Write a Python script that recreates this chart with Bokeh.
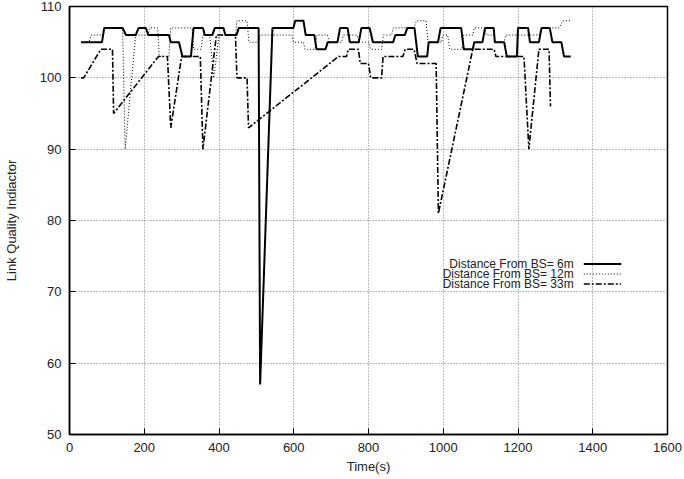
from bokeh.plotting import figure
from bokeh.models import FixedTicker, Label, Arrow
from bokeh.embed import file_html
from bokeh.resources import INLINE

FONT = "Liberation Sans"

# Link quality readings over time for three node distances
t_6m = [31, 87, 93, 142, 151, 177, 185, 204, 211, 266, 271, 293, 302, 325, 332, 357,
        362, 382, 389, 412, 417, 447, 453, 506, 510, 543, 599, 604, 626, 632, 655, 661,
        685, 691, 717, 724, 744, 750, 774, 781, 803, 812, 866, 872, 897, 904, 923, 932,
        957, 961, 986, 993, 1048, 1055, 1079, 1083, 1105, 1112, 1135, 1138, 1163, 1170,
        1197, 1200, 1227, 1232, 1256, 1263, 1285, 1292, 1316, 1323, 1341]
lqi_6m = [105, 105, 107, 107, 106, 106, 107, 107, 106, 106, 105, 105, 103, 103, 107, 107,
          106, 106, 107, 107, 106, 106, 107, 107, 57, 107, 107, 108, 108, 106, 106, 104,
          104, 105, 105, 107, 107, 105, 105, 107, 107, 105, 105, 106, 106, 107, 107, 103,
          103, 105, 105, 107, 107, 104, 104, 105, 105, 107, 107, 105, 105, 103,
          103, 107, 107, 105, 105, 107, 107, 105, 105, 103, 103]

t_12m = [31, 52, 58, 88, 93, 142, 149, 177, 210, 215, 236, 240, 266, 271, 328, 332,
         352, 357, 375, 386, 400, 444, 448, 475, 480, 506, 510, 595, 599, 626, 630, 657,
         662, 690, 695, 728, 733, 770, 775, 800, 806, 835, 840, 862, 866, 922, 928, 954,
         959, 995, 999, 1012, 1017, 1050, 1055, 1079, 1083, 1110, 1115, 1135, 1140, 1163,
         1167, 1256, 1263, 1310, 1320, 1340]
lqi_12m = [105, 105, 106, 106, 107, 107, 90, 106, 106, 107, 107, 103, 103, 107, 107, 104,
           104, 106, 106, 100, 106, 106, 108, 108, 105, 105, 106, 106, 105, 105, 104, 104,
           106, 106, 105, 105, 106, 106, 105, 105, 104, 104, 106, 106, 107, 107, 108, 108,
           105, 105, 106, 106, 104, 104, 106, 106, 107, 107, 106, 106, 105, 105,
           106, 106, 107, 107, 108, 108]

t_33m = [31, 38, 84, 115, 118, 238, 262, 271, 300, 350, 357, 393, 444, 448, 475, 479,
         720, 741, 746, 773, 778, 800, 806, 835, 839, 892, 898, 922, 930, 981, 987, 1079,
         1136, 1141, 1216, 1229, 1256, 1283, 1287]
lqi_33m = [100, 100, 104, 104, 95, 103, 103, 93, 103, 103, 90, 106, 106, 100, 100, 93,
           103, 103, 104, 104, 102, 102, 100, 100, 103, 103, 104, 104, 102, 102, 81, 104,
           104, 103, 103, 90, 104, 104, 96]

x_ticks = [0, 200, 400, 600, 800, 1000, 1200, 1400, 1600]
y_ticks = [50, 60, 70, 80, 90, 100, 110]

series_labels = ["Distance From BS= 6m", "Distance From BS= 12m", "Distance From BS= 33m"]

p = figure(width=684, height=479, x_range=(0, 1600), y_range=(50, 110),
           output_backend="svg", toolbar_location=None,
           min_border_left=67, min_border_right=17, min_border_top=6, min_border_bottom=45)

p.background_fill_color = "white"
p.border_fill_color = "white"
p.outline_line_color = "black"
p.outline_line_width = 1.5

p.xaxis.ticker = FixedTicker(ticks=x_ticks)
p.yaxis.ticker = FixedTicker(ticks=y_ticks)
p.xgrid.ticker = FixedTicker(ticks=x_ticks)
p.ygrid.ticker = FixedTicker(ticks=y_ticks)
for g in (p.xgrid, p.ygrid):
    g.grid_line_color = "#777777"
    g.grid_line_dash = "1 2"
    g.grid_line_width = 1

for ax in (p.xaxis, p.yaxis):
    ax.axis_line_color = "black"
    ax.axis_line_width = 1.5
    ax.major_tick_in = 6
    ax.major_tick_out = 0
    ax.major_tick_line_color = "black"
    ax.minor_tick_line_color = None
    ax.major_label_text_font = FONT
    ax.major_label_text_font_size = "13px"
    ax.major_label_text_color = "#222222"
    ax.axis_label_text_font = FONT
    ax.axis_label_text_font_size = "13px"
    ax.axis_label_text_font_style = "normal"
    ax.axis_label_text_color = "#222222"

p.xaxis.axis_label = "Time(s)"
p.yaxis.axis_label = "Link Quality Indiactor"
p.xaxis.major_label_standoff = 8
p.yaxis.major_label_standoff = 8
p.xaxis.axis_label_standoff = 4
p.yaxis.axis_label_standoff = 18

styles = [
    dict(line_width=2.0),
    dict(line_width=1.0, line_dash="1 2"),
    dict(line_width=1.6, line_dash="6 2 2 2"),
]

p.line(t_6m, lqi_6m, line_color="black", **styles[0])
p.line(t_12m, lqi_12m, line_color="black", **styles[1])
p.line(t_33m, lqi_33m, line_color="black", **styles[2])

# key: right-aligned text followed by a line sample, gnuplot style
key_text_x = 1349
key_line_x0, key_line_x1 = 1376, 1476
key_rows = [73.9, 72.5, 71.1]
for label, row, st in zip(series_labels, key_rows, styles):
    p.add_layout(Label(x=key_text_x, y=row, text=label, text_align="right",
                       text_baseline="middle", text_font=FONT,
                       text_font_size="12px", text_color="#222222"))
    p.add_layout(Arrow(end=None, x_start=key_line_x0, y_start=row,
                       x_end=key_line_x1, y_end=row, line_color="black", **st))

open("out.html", "w").write(file_html(p, INLINE))
